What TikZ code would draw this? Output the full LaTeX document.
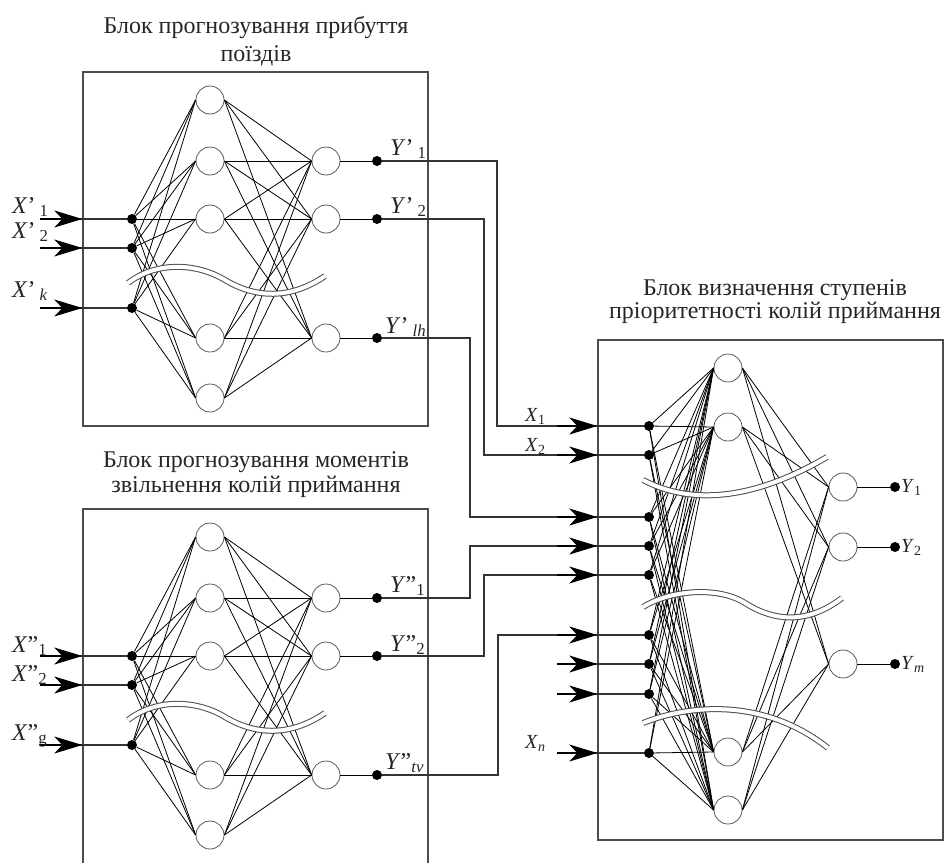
\documentclass[tikz,border=0pt]{standalone}
\usepackage{fontspec}
\setmainfont{Liberation Serif}
\usetikzlibrary{arrows.meta}

\tikzset{
  neuron/.style={circle, draw=black!65, line width=0.8pt, minimum size=28pt, inner sep=0pt},
  dot/.style={circle, fill, inner sep=0pt, minimum size=10pt},
  blockbox/.style={draw=black!70, line width=1.4pt},
  link/.style={line width=0.8pt},
  wire/.style={line width=1.2pt, draw=black!80},
  inarrow/.style={line width=1.2pt, -{Stealth[length=28pt, width=17pt, inset=8pt]}},
  brk/.style={line width=1pt, draw=black!70, double=white, double distance=4pt},
  title/.style={font=\fontsize{24}{28}\selectfont, align=center, text=black!85},
  lbl/.style={font=\fontsize{24}{24}\selectfont, inner sep=0pt, text=black!85},
  lbls/.style={font=\fontsize{20}{20}\selectfont, inner sep=0pt, text=black!85}
}
\newcommand{\varlab}[3]{\textit{#1}#2\textsubscript{#3}}

\begin{document}
\begin{tikzpicture}[x=1pt, y=-1pt]
  \useasboundingbox (0,0) rectangle (944,862);
  % Left blocks (forecasting nets)
  \foreach \b/\dy/\bh in {A/0/354, B/437/380} {
    \node[blockbox, minimum width=345pt, minimum height=\bh pt] (box\b) at (255.5,72+\dy+\bh/2) {};
    \foreach \i/\y in {1/100, 2/161, 3/219, 4/338, 5/398}
      \node[neuron] (h\b\i) at (210,\y+\dy) {};
    \foreach \k/\y in {1/161, 2/219, 3/338} {
      \node[neuron] (o\b\k) at (326,\y+\dy) {};
      \node[dot] (y\b\k) at (377,\y+\dy) {};
    }
    \foreach \i/\y in {1/219, 2/248, 3/308} {
      \node[dot] (x\b\i) at (132,\y+\dy) {};
      \coordinate (in\b\i) at (40,\y+\dy);
    }
    % links
    \foreach \i in {1,2,3}
      \foreach \j in {1,...,5}
        \draw[link] (x\b\i) -- (h\b\j.west);
    \foreach \j in {1,...,5}
      \foreach \k in {1,2,3}
        \draw[link] (h\b\j.east) -- (o\b\k.west);
    \foreach \k in {1,2,3}
      \draw[link] (o\b\k.east) -- (y\b\k);
    % inputs
    \foreach \i in {1,2,3} {
      \draw[wire] (in\b\i) -- (x\b\i);
      \draw[inarrow] (in\b\i) -- (x\b\i -| box\b.west);
    }
    % break line
    \draw[brk] (128,283+\dy) .. controls (155,262+\dy) and (195,262+\dy) .. (225,280+\dy)
      .. controls (255,298+\dy) and (290,300+\dy) .. (325,276+\dy);
  }
  % Right block (priority of receiving tracks)
  \node[blockbox, minimum width=345pt, minimum height=500pt] (boxC) at (770.5,590) {};
  \foreach \j/\y in {1/368, 2/427, 3/752, 4/810}
    \node[neuron] (hC\j) at (728,\y) {};
  \foreach \k/\y in {1/487, 2/547, 3/664} {
    \node[neuron] (oC\k) at (843,\y) {};
    \node[dot] (yC\k) at (895,\y) {};
  }
  \foreach \i/\y in {1/426, 2/455, 3/517, 4/546, 5/575, 6/635, 7/664, 8/694, 9/753}
    \node[dot] (xC\i) at (649,\y) {};
  \foreach \i/\y in {7/664, 8/694, 9/753}
    \coordinate (inC\i) at (558,\y);
  \foreach \i in {1,...,9}
    \foreach \j in {1,...,4}
      \draw[link] (xC\i) -- (hC\j.west);
  \foreach \j in {1,...,4}
    \foreach \k in {1,2,3}
      \draw[link] (hC\j.east) -- (oC\k.west);
  \foreach \k in {1,2,3}
    \draw[link] (oC\k.east) -- (yC\k);
  % wires between blocks
  \draw[wire] (yA1) -- ++(120,0) |- (xC1);
  \draw[wire] (yA2) -- ++(107,0) |- (xC2);
  \draw[wire] (yA3) -- ++(93,0) |- (xC3);
  \draw[wire] (yB1) -- ++(93,0) |- (xC4);
  \draw[wire] (yB2) -- ++(107,0) |- (xC5);
  \draw[wire] (yB3) -- ++(121,0) |- (xC6);
  \foreach \i in {7,8,9}
    \draw[wire] (inC\i) -- (xC\i);
  \foreach \i in {1,...,9}
    \draw[inarrow] (xC\i -| boxC.west) ++(-40,0) -- ++(40,0);
  % break lines
  \draw[brk] (643,480) .. controls (685,502) and (745,505) .. (827,457);
  \draw[brk] (643,607) .. controls (670,590) and (718,586) .. (745,603)
    .. controls (775,622) and (808,624) .. (842,598);
  \draw[brk] (643,723) .. controls (690,704) and (765,698) .. (828,748);
  % titles
  \node[title] (titleA) at (256,41) {Блок прогнозування прибуття\\поїздів};
  \node[title] (titleB) at (256,475) {Блок прогнозування моментів\\[-3pt]звільнення колій приймання};
  \node[title] (titleC) at (775,302) {Блок визначення ступенів\\[-5pt]пріоритетності колій приймання};
  % labels
  \node[lbl, anchor=base west] (lxA1) at (12,213) {\varlab{X}{’\,}{1}};
  \node[lbl, anchor=base west] (lxA2) at (12,238) {\varlab{X}{’\,}{2}};
  \node[lbl, anchor=base west] (lxA3) at (12,297) {\varlab{X}{’\,}{\textit{k}}};
  \node[lbl, anchor=base west] (lyA1) at (390,155) {\varlab{Y}{’\,}{1}};
  \node[lbl, anchor=base west] (lyA2) at (390,213) {\varlab{Y}{’\,}{2}};
  \node[lbl, anchor=base west] (lyA3) at (385,333) {\varlab{Y}{’\,}{\textit{lh}}};
  \node[lbl, anchor=base west] (lxB1) at (12,652) {\varlab{X}{”}{1}};
  \node[lbl, anchor=base west] (lxB2) at (12,681) {\varlab{X}{”}{2}};
  \node[lbl, anchor=base west] (lxB3) at (12,740) {\varlab{X}{”}{g}};
  \node[lbl, anchor=base west] (lyB1) at (390,592) {\varlab{Y}{”}{1}};
  \node[lbl, anchor=base west] (lyB2) at (390,651) {\varlab{Y}{”}{2}};
  \node[lbl, anchor=base west] (lyB3) at (385,769) {\varlab{Y}{”}{\textit{tv}}};
  \node[lbls, anchor=base west] (lxC1) at (525,421) {\varlab{X}{}{1}};
  \node[lbls, anchor=base west] (lxC2) at (525,451) {\varlab{X}{}{2}};
  \node[lbls, anchor=base west] (lxC9) at (525,748) {\varlab{X}{}{\textit{n}}};
  \node[lbls, anchor=west] (lyC1) at (901,487) {\varlab{Y}{}{1}};
  \node[lbls, anchor=west] (lyC2) at (901,547) {\varlab{Y}{}{2}};
  \node[lbls, anchor=west] (lyC3) at (901,664) {\varlab{Y}{}{\textit{m}}};
\end{tikzpicture}
\end{document}
